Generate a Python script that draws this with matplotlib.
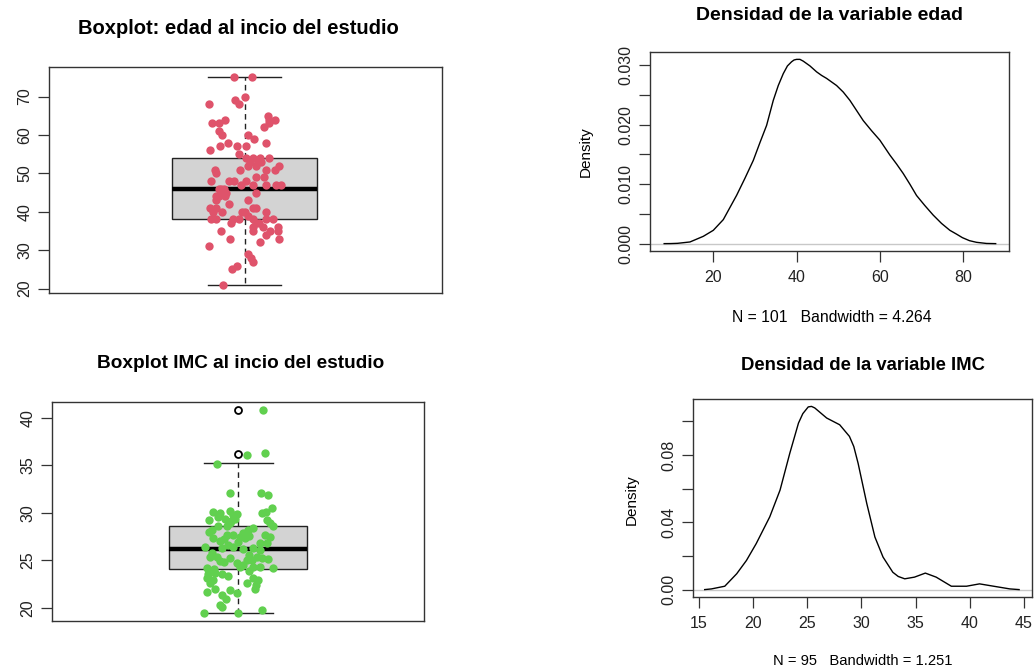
import matplotlib
matplotlib.use("Agg")
import matplotlib.pyplot as plt

plt.rcParams['font.family'] = ['Liberation Sans', 'DejaVu Sans']

W, H = 1034, 670

# ---------------- data ----------------
# Edad: boxplot stats (R hinges) and jittered points (value, jitter offset)
edad_stats = dict(q1=38, med=46, q3=54, whislo=21, whishi=75)
edad_fliers = []
edad_vals = [75, 75, 70, 69, 68, 68, 63, 63, 64, 61, 60, 65, 64, 64, 63, 62, 58, 57, 56, 60,
             59, 58, 57, 57, 55, 54, 54, 54, 54, 52, 52, 53, 53, 51, 51, 51, 51, 52, 50, 48,
             48, 48, 49, 49, 47, 47, 47, 47, 47, 46, 45, 45, 44, 44, 45, 43, 43, 42, 41, 41,
             40, 40, 40, 40, 41, 41, 40, 38, 38, 38, 38, 38, 38, 38, 37, 37, 36, 36, 36, 35,
             35, 35, 35, 34, 33, 33, 32, 31, 29, 28, 27, 25, 26, 21, 46, 46, 44, 39, 37, 53, 48]
edad_jit = [-0.059, 0.042, 0.0, -0.055, -0.031, -0.197, -0.180, -0.138, -0.110, -0.138, -0.123,
            0.129, 0.134, 0.171, 0.134, 0.110, -0.090, -0.134, -0.188, 0.018, 0.055, 0.120,
            -0.040, 0.009, -0.031, 0.009, 0.046, 0.083, 0.134, 0.018, 0.064, 0.077, 0.092,
            -0.162, -0.024, 0.120, 0.167, 0.190, -0.160, -0.186, -0.083, 0.009, 0.061, 0.110,
            -0.018, 0.046, 0.120, 0.175, 0.202, -0.129, -0.120, 0.064, -0.157, -0.110, -0.101,
            -0.157, 0.018, -0.083, -0.193, -0.160, -0.123, -0.175, -0.013, 0.0, 0.046, 0.064,
            0.120, -0.184, -0.160, -0.031, -0.064, 0.046, 0.120, 0.160, -0.074, 0.064, 0.046,
            0.101, 0.184, -0.129, 0.046, 0.138, 0.184, 0.120, -0.079, 0.193, 0.088, -0.197,
            0.018, 0.037, 0.046, -0.070, -0.042, -0.120, -0.140, -0.115, -0.140, 0.020, 0.080,
            0.030, -0.060]

# IMC
imc_stats = dict(q1=24.12, med=26.16, q3=28.59, whislo=19.4, whishi=35.25)
imc_fliers = [40.85, 36.23]
imc_vals = [40.85, 36.3, 36.1, 35.2, 32.1, 32.1, 31.9, 30.5, 30.0, 30.1, 30.1, 30.0, 30.2, 29.8,
            29.3, 29.4, 29.4, 29.3, 28.9, 28.6, 28.6, 28.9, 28.6, 28.2, 28.4, 28.2, 27.7, 27.7,
            27.5, 27.3, 27.7, 27.5, 27.3, 27.0, 26.8, 26.8, 26.3, 26.4, 26.3, 26.1, 26.4, 25.4,
            25.4, 25.2, 25.4, 25.2, 24.9, 25.0, 25.0, 24.7, 24.2, 24.3, 24.3, 24.3, 24.2, 23.6,
            23.7, 23.6, 23.1, 22.9, 23.1, 22.9, 22.6, 22.6, 21.97, 21.97, 21.7, 21.9, 21.6, 21.3,
            20.3, 20.1, 19.8, 19.4, 19.45, 29.6, 29.9, 29.1, 28.0, 27.9, 27.6, 27.2, 26.9, 26.6,
            26.2, 25.8, 25.6, 25.1, 24.8, 24.5, 24.1, 23.9, 23.3, 22.4, 20.9]
imc_jit = [0.141, 0.155, 0.052, -0.126, -0.048, 0.132, 0.174, 0.197, 0.135, 0.159, -0.145,
           -0.106, -0.048, -0.029, -0.168, -0.077, -0.019, 0.164, 0.183, -0.116, -0.068, -0.048,
           0.203, 0.058, 0.087, -0.155, -0.068, -0.029, 0.010, 0.039, 0.155, 0.183, -0.145,
           -0.106, 0.126, 0.164, -0.097, -0.029, 0.087, 0.126, -0.193, -0.164, -0.126, -0.048,
           0.106, 0.135, -0.106, 0.048, 0.077, -0.010, -0.184, 0.010, 0.087, 0.126, 0.203,
           -0.174, -0.135, -0.097, -0.184, -0.145, 0.087, 0.116, -0.164, 0.048, -0.135, 0.097,
           -0.180, -0.048, -0.010, -0.097, -0.106, -0.097, 0.135, -0.199, 0.0, -0.120, -0.010,
           -0.040, -0.170, 0.030, 0.060, -0.080, 0.000, -0.060, 0.030, -0.150, 0.060, 0.170,
           -0.080, 0.030, -0.140, 0.060, -0.060, 0.100, -0.070]

# Density curves
dens_edad_x = [8.2, 9.8, 11.4, 14.4, 17.6, 20.0, 22.4, 25.6, 27.6, 29.6, 31.2, 32.8, 34.4, 35.6,
               36.8, 37.8, 38.8, 39.4, 40.0, 40.8, 41.6, 43.2, 44.8, 46.0, 47.2, 49.6, 51.2,
               52.8, 54.4, 56.0, 58.0, 60.0, 62.4, 64.0, 65.6, 67.2, 68.8, 70.8, 72.8, 74.8,
               76.8, 78.4, 79.8, 81.5, 83.2, 85.6, 87.8]
dens_edad_y = [0.0, 0.00001, 0.00005, 0.00028, 0.00123, 0.00224, 0.00404, 0.00813, 0.0110,
               0.0140, 0.0170, 0.0199, 0.0241, 0.0266, 0.0286, 0.0299, 0.0306, 0.0309, 0.0310,
               0.0310, 0.0307, 0.0299, 0.0289, 0.0283, 0.0278, 0.0266, 0.0255, 0.0241, 0.0224,
               0.0207, 0.0190, 0.0174, 0.0149, 0.0134, 0.0118, 0.0100, 0.0081, 0.0064, 0.0048,
               0.0034, 0.00224, 0.0016, 0.00101, 0.0005, 0.00022, 0.00003, 0.0]
dens_imc_x = [15.55, 16.17, 17.4, 18.5, 19.4, 20.3, 21.55, 22.5, 23.4, 24.2, 24.6, 25.1, 25.4,
              25.7, 26.8, 28.0, 28.9, 29.3, 29.7, 30.5, 31.25, 32.0, 32.9, 33.4, 34.0, 34.9,
              35.9, 36.9, 38.3, 39.7, 40.9, 42.2, 43.7, 44.55]
dens_imc_y = [0.0, 0.0004, 0.002, 0.0094, 0.0173, 0.0273, 0.0432, 0.0591, 0.081, 0.0989, 0.1045,
              0.1085, 0.1088, 0.1079, 0.1019, 0.0979, 0.091, 0.085, 0.075, 0.0511, 0.0312,
              0.0193, 0.0103, 0.0078, 0.0064, 0.0074, 0.0098, 0.0074, 0.002, 0.002, 0.0034,
              0.002, 0.0004, 0.0]

edad_yticks = [20, 30, 40, 50, 60, 70]
imc_yticks = [20, 25, 30, 35, 40]
dens_edad_yticks = [0.0, 0.005, 0.010, 0.015, 0.020, 0.025, 0.030]
dens_edad_ylabels = ['0.000', '', '0.010', '', '0.020', '', '0.030']
dens_edad_xticks = [20, 40, 60, 80]
dens_imc_yticks = [0.0, 0.02, 0.04, 0.06, 0.08, 0.10]
dens_imc_ylabels = ['0.00', '', '0.04', '', '0.08', '']
dens_imc_xticks = [15, 20, 25, 30, 35, 40, 45]

RED = '#DF536B'
GREEN = '#61D04F'
SPINE = '#333333'
TICKFS = 11.5

fig = plt.figure(figsize=(W / 100, H / 100), dpi=100)


def px_axes(l, t, r, b):
    return fig.add_axes([l / W, (H - b) / H, (r - l) / W, (b - t) / H])


def style(ax):
    for s in ax.spines.values():
        s.set_color(SPINE)
        s.set_linewidth(1.0)
    ax.tick_params(length=8, width=0.9, color=SPINE, labelsize=TICKFS, labelcolor='#222222')


def fig_text(x, y, s, **kw):
    fig.text(x / W, 1 - y / H, s, ha='center', va='center', **kw)


def draw_box(ax, stats, fliers, vals, jit, color, ylim, xlim, yticks):
    st = dict(stats)
    st['fliers'] = fliers
    ax.bxp([st], positions=[1], widths=0.8, patch_artist=True, showfliers=True,
           boxprops=dict(facecolor='#D3D3D3', edgecolor='#222222', linewidth=1.0),
           medianprops=dict(color='black', linewidth=3.2, solid_capstyle='butt'),
           whiskerprops=dict(color='#222222', linewidth=1.0, linestyle=(0, (4, 3))),
           capprops=dict(color='#222222', linewidth=1.0),
           flierprops=dict(marker='o', markerfacecolor='white', markeredgecolor='black',
                           markersize=5, markeredgewidth=1.3))
    xs = [1 + j for j in jit]
    ax.plot(xs, vals, 'o', color=color, markersize=6, markeredgewidth=0, zorder=5)
    ax.set_xlim(*xlim)
    ax.set_ylim(*ylim)
    ax.set_xticks([])
    ax.set_yticks(yticks)
    ax.set_yticklabels([str(t) for t in yticks])
    style(ax)
    ax.tick_params(axis='y', labelrotation=90, pad=4)
    for lbl in ax.get_yticklabels():
        lbl.set_va('center')


# Top-left boxplot
ax1 = px_axes(49, 67, 442, 293)
draw_box(ax1, edad_stats, edad_fliers, edad_vals, edad_jit, RED,
         (18.84, 77.7), (-0.079, 2.090), edad_yticks)
fig_text(238.5, 28, 'Boxplot: edad al incio del estudio', fontsize=14.5, fontweight='bold')

# Bottom-left boxplot
ax2 = px_axes(52, 402, 424, 621)
draw_box(ax2, imc_stats, imc_fliers, imc_vals, imc_jit, GREEN,
         (18.6, 41.69), (-0.080, 2.077), imc_yticks)
fig_text(241, 364, 'Boxplot IMC al incio del estudio', fontsize=13.7, fontweight='bold')


def draw_dens(ax, x, y, xlim, ylim, xticks, yticks, ylabels):
    ax.axhline(0, color='#C8C8C8', linewidth=1.0, zorder=1)
    ax.plot(x, y, color='black', linewidth=1.0, zorder=3)
    ax.set_xlim(*xlim)
    ax.set_ylim(*ylim)
    ax.set_xticks(xticks)
    ax.set_xticklabels([str(t) for t in xticks])
    ax.set_yticks(yticks)
    ax.set_yticklabels(ylabels)
    style(ax)
    ax.tick_params(axis='x', pad=6)
    ax.tick_params(axis='y', labelrotation=90, pad=4)
    for lbl in ax.get_yticklabels():
        lbl.set_va('center')


# Top-right density
ax3 = px_axes(650, 52, 1009, 251)
draw_dens(ax3, dens_edad_x, dens_edad_y, (4.8, 91.0), (-0.00124, 0.03224),
          dens_edad_xticks, dens_edad_yticks, dens_edad_ylabels)
fig_text(830, 15, 'Densidad de la variable edad', fontsize=14, fontweight='bold')
fig_text(832, 317, 'N = 101   Bandwidth = 4.264', fontsize=11.3)
fig_text(586, 152, 'Density', fontsize=11, rotation=90)

# Bottom-right density
ax4 = px_axes(693, 399, 1032, 597)
draw_dens(ax4, dens_imc_x, dens_imc_y, (14.47, 45.74), (-0.0044, 0.1132),
          dens_imc_xticks, dens_imc_yticks, dens_imc_ylabels)
fig_text(863, 366, 'Densidad de la variable IMC', fontsize=13.3, fontweight='bold')
fig_text(863, 661, 'N = 95   Bandwidth = 1.251', fontsize=10.6)
fig_text(632, 500, 'Density', fontsize=11, rotation=90)

fig.savefig('out.png', dpi=100)
